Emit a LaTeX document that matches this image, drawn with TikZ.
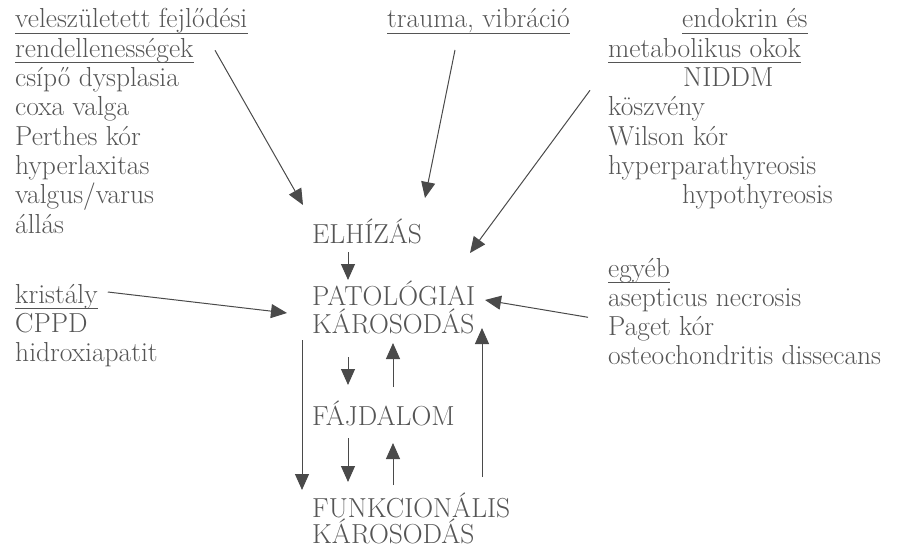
\documentclass[tikz,border=0pt]{standalone}
\usepackage{xcolor}
\usepackage{tikz}
\usetikzlibrary{arrows.meta}
\definecolor{inkgray}{HTML}{555555}
\definecolor{arrowgray}{HTML}{4A4A4A}
\tikzset{
  lbl/.style = {anchor=base west, inner sep=0pt, text=inkgray,
    font=\fontsize{27.5}{32}\selectfont},% egy szovegsor
  arr/.style = {draw=arrowgray, line width=1pt,
    -{Triangle[length=16pt,width=14pt]}},% nyil
  uline/.style = {draw=inkgray, line width=0.8pt}% alahuzas
}

\begin{document}
\begin{tikzpicture}[x=1pt,y=-1pt]
\useasboundingbox (0,0) rectangle (903,551);
% bal felso lista
\foreach \txt [count=\i] in {veleszületett fejlődési, rendellenességek,
  csípő dysplasia, coxa valga, Perthes kór, hyperlaxitas, valgus/varus, állás}
  \node [lbl] (vel\i) at (15,{28+29.3*(\i-1)}) {\txt};
\node [lbl] (trauma) at (387,28) {trauma, vibráció};
% jobb felso lista
\node [lbl] (endo) at (682,28) {endokrin és};
\foreach \txt/\x [count=\i] in {metabolikus okok/608, NIDDM/683, köszvény/608,
  Wilson kór/608, hyperparathyreosis/608, hypothyreosis/682}
  \node [lbl] (met\i) at (\x,{57.3+29.3*(\i-1)}) {\txt};
% also listak
\foreach \txt [count=\i] in {kristály, CPPD, hidroxiapatit}
  \node [lbl] (kri\i) at (15,{303+29.3*(\i-1)}) {\txt};
\foreach \txt [count=\i] in {egyéb, asepticus necrosis, Paget kór,
  osteochondritis dissecans}
  \node [lbl] (egy\i) at (608,{277+29.3*(\i-1)}) {\txt};
% kozepso oszlop
\node [lbl] (elh) at (312,243) {ELHÍZÁS};
\node [lbl] (pat) at (312,305) {PATOLÓGIAI};
\node [lbl] (patk) at (312,333) {KÁROSODÁS};
\node [lbl] (faj) at (312,425) {FÁJDALOM};
\node [lbl] (fun) at (312,517) {FUNKCIONÁLIS};
\node [lbl] (funk) at (312,543) {KÁROSODÁS};
% alahuzasok
\foreach \n in {vel1,vel2,trauma,endo,met1,kri1,egy1}
  \draw [uline] ([yshift=-5pt]\n.base west) -- ([yshift=-5pt]\n.base east);
% okok nyilai
\draw [arr] ([xshift=200pt,yshift=7pt]vel2.base west) -- ([xshift=-9pt,yshift=38pt]elh.base west);
\draw [arr] ([xshift=68pt,yshift=-22pt]trauma.base west) -- ([xshift=113pt,yshift=45pt]elh.base west);
\draw [arr] ([xshift=-18pt,yshift=-33pt]met1.base west) -- ([xshift=158pt,yshift=-10pt]elh.base west);
\draw [arr] ([xshift=10pt,yshift=11pt]kri1.base east) -- ([xshift=-25pt,yshift=-8pt]pat.base west);
\draw [arr] ([xshift=-20pt,yshift=-11pt]egy2.base west) -- ([xshift=173pt,yshift=5pt]pat.base west);
% kozepso nyilak
\draw [arr] ([xshift=36pt,yshift=-9pt]elh.base west) -- ([xshift=36pt,yshift=25pt]pat.base west);
\draw [arr] ([xshift=-10pt,yshift=-7pt]patk.base west) -- ([xshift=-10pt,yshift=27pt]fun.base west);
\draw [arr] ([xshift=36pt,yshift=-24pt]patk.base west) -- ([xshift=36pt,yshift=40pt]faj.base west);
\draw [arr] ([xshift=81pt,yshift=38pt]faj.base west) -- ([xshift=81pt,yshift=-10pt]patk.base west);
\draw [arr] ([xshift=36pt,yshift=-13pt]faj.base west) -- ([xshift=36pt,yshift=35pt]fun.base west);
\draw [arr] ([xshift=81pt,yshift=32pt]fun.base west) -- ([xshift=81pt,yshift=-18pt]faj.base west);
\draw [arr] ([xshift=170pt,yshift=40pt]fun.base west) -- ([xshift=170pt,yshift=5pt]patk.base west);
\end{tikzpicture}
\end{document}
